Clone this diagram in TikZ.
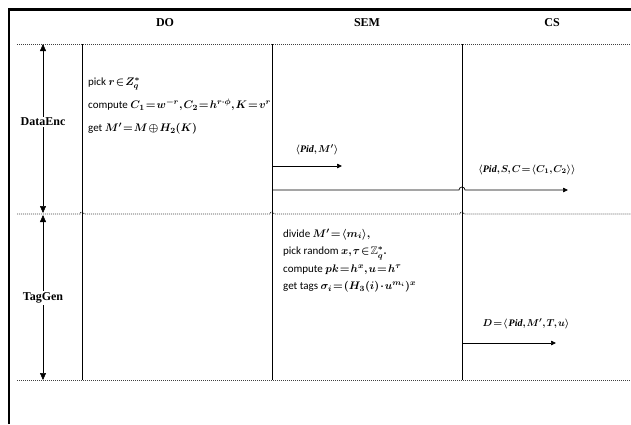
\documentclass[tikz,border=0pt]{standalone}
\usepackage{amsmath,amssymb,bm}
\usepackage{fontspec}
\setmainfont{Liberation Serif}
\newfontfamily\bodyfont{Carlito}
\usetikzlibrary{arrows.meta}
\newcommand{\tightmath}{\thickmuskip=1.5mu plus 1mu\medmuskip=1.5mu\thinmuskip=1.5mu}
\begin{document}
\begin{tikzpicture}[x=1pt,y=-1pt,
  hdr/.style={font=\bfseries\fontsize{12}{14}\selectfont, inner sep=0pt},
  phase/.style={font=\bfseries\fontsize{12}{14}\selectfont, fill=white, inner sep=1.5pt},
  dobody/.style={font=\bodyfont\fontsize{11}{23}\selectfont\boldmath\tightmath, align=left, anchor=north west, inner sep=0pt},
  sembody/.style={font=\bodyfont\fontsize{11}{17.5}\selectfont\boldmath\tightmath, align=left, anchor=north west, inner sep=0pt},
  lbl/.style={font=\bodyfont\fontsize{10}{12}\selectfont\boldmath\tightmath, anchor=base, inner sep=0pt},
  frame/.style={line width=1.2pt},
  life/.style={line width=0.8pt},
  sep/.style={line width=0.9pt, dash pattern=on 1.1pt off 0.9pt, black!75},
  span/.style={line width=0.5pt, {Triangle[length=7pt,width=6pt]}-{Triangle[length=7pt,width=6pt]}},
  msg/.style={line width=0.7pt, -{Triangle[length=5pt,width=4.5pt]}}]
\useasboundingbox (0,0) rectangle (631,424);
% frame
\draw[frame] (9,424) -- (9,9) -- (631,9);
\draw[line width=0.6pt] (9,10.5) -- (631,10.5);
% headers
\node[hdr] (do)  at (165,23) {DO};
\node[hdr] (sem) at (367,23) {SEM};
\node[hdr] (cs)  at (552,23) {CS};
% coordinates
\coordinate (doT) at (82,44);   \coordinate (doB) at (82,380);
\coordinate (semT) at (272,44); \coordinate (semB) at (272,380);
\coordinate (csT) at (462,44);  \coordinate (csB) at (462,380);
% separators
\draw[sep] (17,44) -- (631,44);
\draw[sep] (17,214) -- (80,214) arc(180:360:2) -- (270,214) arc(180:360:2) -- (460,214) arc(180:360:2) -- (631,214);
\draw[sep] (17,380) -- (631,380);
% lifelines
\draw[life] (doT) -- (doB);
\draw[life] (semT) -- (semB);
\draw[life] (csT) -- (csB);
% phase spans
\coordinate (p1T) at (43,44);  \coordinate (p1B) at (43,213);
\coordinate (p2T) at (43,215); \coordinate (p2B) at (43,380);
\draw[span] (p1T) -- (p1B);
\draw[span] (p2T) -- (p2B);
\node[phase] (dataenc) at (43,122) {DataEnc};
\node[phase] (taggen) at (43,298) {TagGen};
% DO text
\node[dobody] (dotext) at (88,77.5) {pick $r\in Z_q^{*}$\\
  compute $C_1=w^{-r},C_2=h^{r\cdot\phi},K=v^{r}$\\
  get $M'=M\oplus H_2(K)$};
% SEM text
\node[sembody] (semtext) at (283,228.5) {divide $M'=\langle m_i\rangle,$\\
  pick random $x,\tau\in\mathbb{Z}_q^{*}.$\\
  compute $pk=h^{x},u=h^{\tau}$\\
  get tags $\sigma_i=(H_3(i)\cdot u^{m_i})^{x}$};
% messages
\coordinate (m1a) at (272,166); \coordinate (m1b) at (342,166);
\draw[msg] (m1a) -- (m1b);
\node[lbl] (m1) at (317,152) {$\langle \mathit{Pid},M'\rangle$};
\coordinate (m2a) at (272,190); \coordinate (m2b) at (568,190);
\draw[msg] (m2a) -- (459,190) arc(180:360:3) -- (m2b);
\node[lbl] (m2) at (527,172) {$\langle \mathit{Pid},S,C=\langle C_1,C_2\rangle\rangle$};
\coordinate (m3a) at (462,343); \coordinate (m3b) at (556,343);
\draw[msg] (m3a) -- (m3b);
\node[lbl] (m3) at (526,326) {$D=\langle\, \mathit{Pid},M',T,u\rangle$};
\end{tikzpicture}
\end{document}
